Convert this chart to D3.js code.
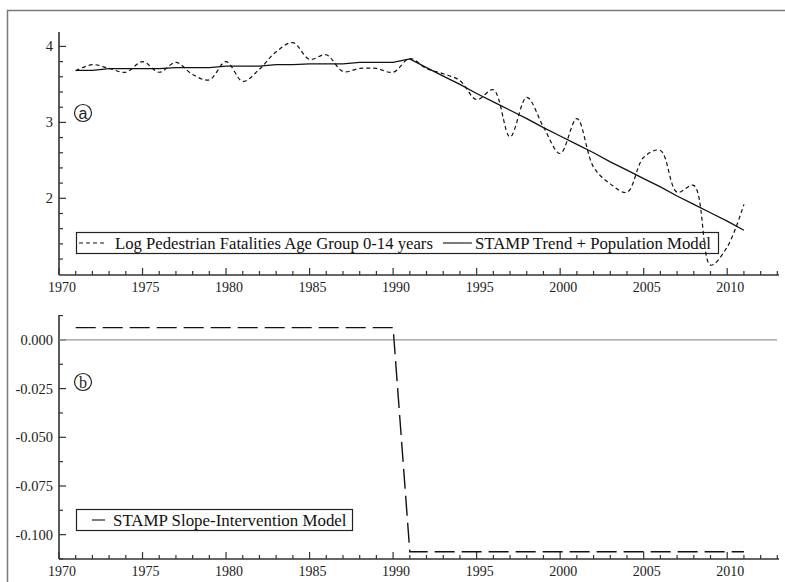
<!DOCTYPE html>
<html>
<head>
<meta charset="utf-8">
<script src="https://cdn.jsdelivr.net/npm/d3@7"></script>
<style>
  html, body { margin: 0; padding: 0; background: #fff; }
  svg { display: block; }
</style>
</head>
<body>
<div id="plot"></div>
<script>
// Two stacked panels: (a) log pedestrian fatalities vs STAMP trend, (b) slope intervention
const years = [1971, 1972, 1973, 1974, 1975, 1976, 1977, 1978, 1979, 1980,
  1981, 1982, 1983, 1984, 1985, 1986, 1987, 1988, 1989, 1990,
  1991, 1992, 1993, 1994, 1995, 1996, 1997, 1998, 1999, 2000,
  2001, 2002, 2003, 2004, 2005, 2006, 2007, 2008, 2009, 2010, 2011];

const logFatalities = [3.68, 3.76, 3.71, 3.66, 3.80, 3.66, 3.79, 3.63, 3.56, 3.80,
  3.54, 3.70, 3.93, 4.05, 3.83, 3.89, 3.67, 3.71, 3.71, 3.66,
  3.84, 3.71, 3.64, 3.55, 3.30, 3.43, 2.81, 3.33, 2.94, 2.59,
  3.05, 2.41, 2.19, 2.08, 2.54, 2.63, 2.08, 2.17, 1.12, 1.36, 1.92];

const trendPopulation = [3.684, 3.684, 3.707, 3.707, 3.707, 3.707, 3.72, 3.72, 3.72, 3.74,
  3.74, 3.74, 3.76, 3.76, 3.77, 3.77, 3.77, 3.79, 3.79, 3.79,
  3.835, 3.72, 3.61, 3.50, 3.38, 3.27, 3.16, 3.05, 2.93, 2.82,
  2.71, 2.60, 2.48, 2.37, 2.26, 2.15, 2.03, 1.92, 1.81, 1.70, 1.58];

const slopeIntervention = [0.0063, 0.0063, 0.0063, 0.0063, 0.0063, 0.0063, 0.0063, 0.0063, 0.0063, 0.0063,
  0.0063, 0.0063, 0.0063, 0.0063, 0.0063, 0.0063, 0.0063, 0.0063, 0.0063, 0.0063,
  -0.1088, -0.1088, -0.1088, -0.1088, -0.1088, -0.1088, -0.1088, -0.1088, -0.1088, -0.1088,
  -0.1088, -0.1088, -0.1088, -0.1088, -0.1088, -0.1088, -0.1088, -0.1088, -0.1088, -0.1088, -0.1088];

const xTicks = [1970, 1975, 1980, 1985, 1990, 1995, 2000, 2005, 2010];
const yTicksA = [2, 3, 4];
const yTicksB = [0, -0.025, -0.05, -0.075, -0.1];
const legendA = ['Log Pedestrian Fatalities Age Group 0-14 years', 'STAMP Trend + Population Model'];
const legendB = ['STAMP Slope-Intervention Model'];

const W = 785, H = 582;
const serif = '"Liberation Serif", "Times New Roman", serif';
const axisColor = '#333';

const svg = d3.select('#plot').append('svg').attr('width', W).attr('height', H);

// outer frame
svg.append('rect').attr('x', 7.5).attr('y', 10.5).attr('width', 800).attr('height', 600)
  .attr('fill', 'none').attr('stroke', '#7a7a7a').attr('stroke-width', 1.5);

const x = d3.scaleLinear().domain([1970, 2013.1]).range([59, 779]);
const yA = d3.scaleLinear().domain([0.99, 4.19]).range([275, 32]);
const yB = d3.scaleLinear().domain([-0.1125, 0.0128]).range([559, 315]);

function drawAxes(y, yTicks, yMinor, fmt, yFont) {
  const x0 = x.range()[0], x1 = x.range()[1];
  const yBot = y.range()[0], yTop = y.range()[1];
  const g = svg.append('g');
  g.append('line').attr('x1', x0).attr('x2', x0).attr('y1', yTop).attr('y2', yBot)
    .attr('stroke', axisColor).attr('stroke-width', 1.6);
  g.append('line').attr('x1', x0).attr('x2', x1).attr('y1', yBot).attr('y2', yBot)
    .attr('stroke', axisColor).attr('stroke-width', 1.6);

  // x ticks: minor every year, major every 5
  const minorYears = [];
  for (let yr = 1971; yr <= 2013; yr++) if (yr % 5 !== 0) minorYears.push(yr);
  g.selectAll('.xmin').data(minorYears).enter().append('line')
    .attr('x1', (d) => x(d)).attr('x2', (d) => x(d)).attr('y1', yBot).attr('y2', yBot - 4)
    .attr('stroke', axisColor).attr('stroke-width', 1.2);
  g.selectAll('.xmaj').data(xTicks).enter().append('line')
    .attr('x1', (d) => x(d)).attr('x2', (d) => x(d)).attr('y1', yBot).attr('y2', yBot - 7)
    .attr('stroke', axisColor).attr('stroke-width', 1.2);
  g.selectAll('.xlab').data(xTicks).enter().append('text')
    .attr('x', (d) => x(d) + 3).attr('y', yBot + 16.5)
    .attr('text-anchor', 'middle').style('font-family', serif).style('font-size', '14px')
    .attr('fill', '#222').text((d) => d);

  g.selectAll('.ymin').data(yMinor).enter().append('line')
    .attr('x1', x0).attr('x2', x0 + 4).attr('y1', (d) => y(d)).attr('y2', (d) => y(d))
    .attr('stroke', axisColor).attr('stroke-width', 1.2);
  g.selectAll('.ymaj').data(yTicks).enter().append('line')
    .attr('x1', x0).attr('x2', x0 + 7).attr('y1', (d) => y(d)).attr('y2', (d) => y(d))
    .attr('stroke', axisColor).attr('stroke-width', 1.2);
  g.selectAll('.ylab').data(yTicks).enter().append('text')
    .attr('x', x0 - 6).attr('y', (d) => y(d) + 5)
    .attr('text-anchor', 'end').style('font-family', serif).style('font-size', yFont)
    .attr('fill', '#222').text(fmt);
}

drawAxes(yA, yTicksA, [1.2, 1.4, 1.6, 1.8, 2.2, 2.4, 2.6, 2.8, 3.2, 3.4, 3.6, 3.8], (d) => String(d), '14.5px');
drawAxes(yB, yTicksB, [0.0125, -0.0125, -0.0375, -0.0625, -0.0875, -0.1125], (d) => d.toFixed(3), '14.5px');

// zero reference line in panel (b)
svg.append('line').attr('x1', x(1970)).attr('x2', 777).attr('y1', yB(0)).attr('y2', yB(0))
  .attr('stroke', '#999').attr('stroke-width', 1.2);

// circled panel labels
function circled(cx, cy, letter, font) {
  svg.append('circle').attr('cx', cx).attr('cy', cy).attr('r', 8.5)
    .attr('fill', 'none').attr('stroke', '#222').attr('stroke-width', 1.2);
  svg.append('text').attr('x', cx).attr('y', cy + 5.5).attr('text-anchor', 'middle')
    .style('font-family', font).style('font-size', '16px').attr('fill', '#222').text(letter);
}
circled(83, 113, 'a', '"Liberation Sans", Arial, sans-serif');
circled(83, 382, 'b', serif);

// legend (a), drawn under the data
const legA = svg.append('g');
legA.append('rect').attr('x', 76.5).attr('y', 232.5).attr('width', 642).attr('height', 21)
  .attr('fill', '#fff').attr('stroke', '#222').attr('stroke-width', 1.2);
legA.append('line').attr('x1', 79).attr('x2', 106).attr('y1', 243).attr('y2', 243)
  .attr('stroke', '#111').attr('stroke-width', 1.1).attr('stroke-dasharray', '4,3');
const tA1 = legA.append('text').attr('x', 115).attr('y', 248.5)
  .style('font-family', serif).style('font-size', '16.7px').attr('fill', '#111').text(legendA[0]);
const endA1 = 115 + tA1.node().getComputedTextLength();
legA.append('line').attr('x1', endA1 + 10).attr('x2', endA1 + 39).attr('y1', 243).attr('y2', 243)
  .attr('stroke', '#111').attr('stroke-width', 1.1);
legA.append('text').attr('x', endA1 + 42).attr('y', 248.5)
  .style('font-family', serif).style('font-size', '16.8px').attr('fill', '#111').text(legendA[1]);

// legend (b)
const legB = svg.append('g');
legB.append('rect').attr('x', 76.5).attr('y', 509.5).attr('width', 276).attr('height', 21)
  .attr('fill', '#fff').attr('stroke', '#222').attr('stroke-width', 1.2);
legB.append('line').attr('x1', 92).attr('x2', 105).attr('y1', 520).attr('y2', 520)
  .attr('stroke', '#111').attr('stroke-width', 1.1);
legB.append('text').attr('x', 113).attr('y', 525.5)
  .style('font-family', serif).style('font-size', '16.9px').attr('fill', '#111').text(legendB[0]);

// series
const rows = years.map((yr, i) => ({ yr, obs: logFatalities[i], trend: trendPopulation[i], slope: slopeIntervention[i] }));

svg.append('path').datum(rows)
  .attr('d', d3.line().x((d) => x(d.yr)).y((d) => yA(d.trend)))
  .attr('fill', 'none').attr('stroke', '#111').attr('stroke-width', 1.3);

svg.append('path').datum(rows)
  .attr('d', d3.line().curve(d3.curveCatmullRom.alpha(0.5)).x((d) => x(d.yr)).y((d) => yA(d.obs)))
  .attr('fill', 'none').attr('stroke', '#111').attr('stroke-width', 1.2).attr('stroke-dasharray', '4,3');

svg.append('path').datum(rows)
  .attr('d', d3.line().x((d) => x(d.yr)).y((d) => yB(d.slope)))
  .attr('fill', 'none').attr('stroke', '#111').attr('stroke-width', 1.4).attr('stroke-dasharray', '20,7');
</script>
</body>
</html>
